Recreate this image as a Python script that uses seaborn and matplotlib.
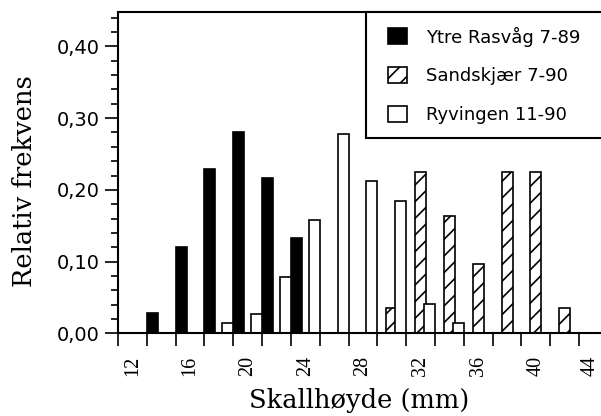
import matplotlib
matplotlib.use("Agg")
import matplotlib.pyplot as plt
import matplotlib.transforms as mtransforms
import seaborn as sns
import numpy as np
from matplotlib.ticker import MultipleLocator, FixedLocator, FuncFormatter
from matplotlib.legend_handler import HandlerPatch, update_from_first_child
from matplotlib.container import BarContainer
from matplotlib.patches import Rectangle

# ---- data ----
ytre_classes = [13, 15, 17, 19, 21, 23]
ytre_freq = [0.028, 0.120, 0.229, 0.281, 0.216, 0.133]
sand_classes = [30, 32, 34, 36, 38, 40, 42]
sand_freq = [0.035, 0.225, 0.163, 0.097, 0.225, 0.225, 0.035]
ryv_classes = [19, 21, 23, 25, 27, 29, 31, 33, 35]
ryv_freq = [0.014, 0.027, 0.079, 0.158, 0.278, 0.212, 0.185, 0.041, 0.014]
series_labels = ["Ytre Rasvåg 7-89", "Sandskjær 7-90", "Ryvingen 11-90"]
x_tick_values = [12, 16, 20, 24, 28, 32, 36, 40, 44]
y_tick_values = [0.00, 0.10, 0.20, 0.30, 0.40]
x_label = "Skallhøyde (mm)"
y_label = "Relativ frekvens"

sns.set_style("ticks")
plt.rcParams["font.family"] = ["DejaVu Sans"]
for k in ["text.color", "axes.labelcolor", "xtick.color", "ytick.color",
          "axes.edgecolor"]:
    plt.rcParams[k] = "black"
plt.rcParams["hatch.linewidth"] = 1.2
plt.rcParams["hatch.color"] = "black"

fig = plt.figure(figsize=(6.01, 4.16), dpi=100)
W, H = 601, 416
x0, x1, ytop, ybot = 118, 601, 12, 333.3
ax = fig.add_axes([x0 / W, (H - ybot) / H, (x1 - x0) / W, (ybot - ytop) / H])

bar_kw = dict(native_scale=True, orient="x", width=0.38, saturation=1,
              errorbar=None, edgecolor="black", linewidth=1.2, ax=ax)

sns.barplot(x=np.array(ytre_classes) + 0.38, y=ytre_freq, color="black",
            label=series_labels[0], **bar_kw)
sns.barplot(x=np.array(sand_classes), y=sand_freq, color="white", hatch="//",
            label=series_labels[1], **bar_kw)
sns.barplot(x=np.array(ryv_classes) - 0.38, y=ryv_freq, color="white",
            label=series_labels[2], **bar_kw)

ax.set_xlim(11, 11 + (x1 - x0) / 14.41)
ax.set_ylim(0, 0.448)

# x axis: labels at even values (no tick), tick marks at odd values
ax.xaxis.set_major_locator(FixedLocator(x_tick_values))
ax.set_xticklabels([str(v) for v in x_tick_values])
ax.xaxis.set_minor_locator(MultipleLocator(2, offset=1))
ax.tick_params(axis="x", which="major", length=0, pad=16, labelsize=14.5,
               labelrotation=90)
ax.tick_params(axis="x", which="minor", length=9.4, width=1.2, direction="out")
xlabels = ax.get_xticklabels()
for lbl in xlabels:
    lbl.set_fontfamily("Liberation Serif")
# keep the last label (at the figure's right edge) fully inside the picture
xlabels[-1].set_transform(xlabels[-1].get_transform() +
                          mtransforms.ScaledTranslation(-3 / 100, 0, fig.dpi_scale_trans))

ax.yaxis.set_major_locator(FixedLocator(y_tick_values))
ax.yaxis.set_major_formatter(FuncFormatter(lambda v, p: f"{v:.2f}".replace(".", ",")))
ax.yaxis.set_minor_locator(MultipleLocator(0.02))
ax.tick_params(axis="y", which="major", length=9.4, width=1.2, pad=3.6,
               labelsize=14, direction="out")
ax.tick_params(axis="y", which="minor", length=5, width=1.2, direction="out")

for s in ["top", "left", "bottom"]:
    ax.spines[s].set_color("black")
    ax.spines[s].set_linewidth(1.5)
ax.spines["right"].set_visible(False)

ax.set_xlabel(x_label, fontfamily="DejaVu Serif", fontsize=18.5, labelpad=9)
ax.set_ylabel(y_label, fontfamily="DejaVu Serif", fontsize=18.5)
ax.yaxis.set_label_coords(-0.168, 0.4725)


def right_rect(legend, orig_handle, xdescent, ydescent, width, height, fontsize):
    w = 1.05 * fontsize
    h = 0.9 * fontsize
    return Rectangle((-xdescent + width - w, -ydescent + (height - h) / 2), w, h)


fs = 13
leg_left = (366 - x0) / (x1 - x0)
leg = ax.legend(loc="upper left",
                bbox_to_anchor=(leg_left, 0.0, (620 - 366) / (x1 - x0), 1.0),
                mode="expand", borderaxespad=0, frameon=True, fancybox=False,
                framealpha=1, edgecolor="black", fontsize=fs,
                handlelength=1.45, handleheight=0.9, handletextpad=1.1,
                labelspacing=1.15, borderpad=0.8,
                handler_map={BarContainer: HandlerPatch(
                    patch_func=right_rect, update_func=update_from_first_child)})
leg.get_frame().set_linewidth(1.5)

fig.savefig("out.png", dpi=100)
